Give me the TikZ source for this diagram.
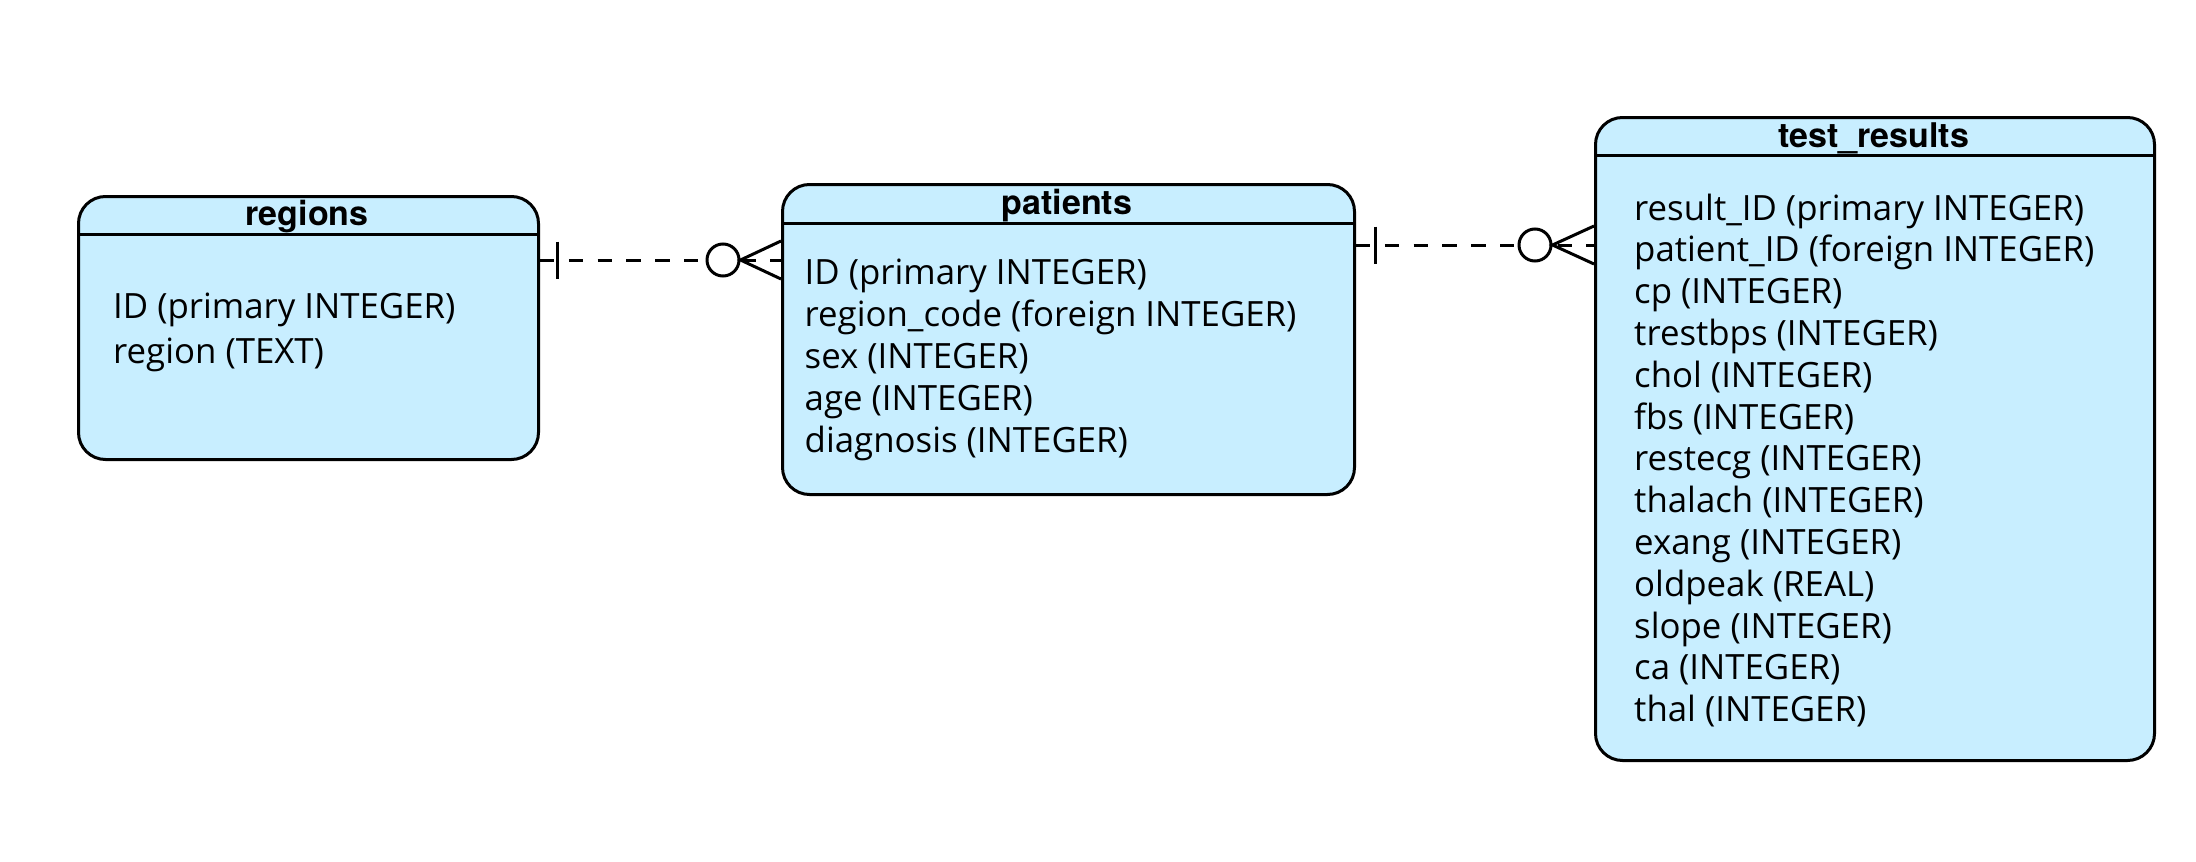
\documentclass[tikz,border=0pt]{standalone}
\usepackage{fontspec}
\setmainfont{Open Sans}
\newfontfamily\titlefont{TeX Gyre Heros}
\usetikzlibrary{calc}
\definecolor{boxfill}{HTML}{C8EEFF}
\tikzset{
  erbox/.style={draw=black, line width=3pt, fill=boxfill, rounded corners=27pt, inner sep=0pt, anchor=north west},
  ttl/.style={font=\titlefont\fontsize{34}{40}\selectfont\bfseries, anchor=base, inner sep=0pt},
  attr/.style={font=\fontsize{34.8}{42}\selectfont, anchor=base west, inner sep=0pt},
  rel/.style={line width=3pt, dash pattern=on 14.4pt off 14.4pt},
  endmark/.style={line width=3pt},
  zerocirc/.style={circle, draw=black, fill=white, line width=3pt, minimum size=32pt, inner sep=0pt}
}
\begin{document}
\begin{tikzpicture}[x=1pt, y=-1pt]
\useasboundingbox (0,0) rectangle (2196,862);

% tables
\node[erbox, minimum width=460pt, minimum height=263pt] (regions) at (77,195) {};
\node[erbox, minimum width=572pt, minimum height=310pt] (patients) at (781,183) {};
\node[erbox, minimum width=559pt, minimum height=643pt] (tests) at (1594,116) {};

% header separators
\coordinate (h1) at (0,234);
\coordinate (h2) at (0,223);
\coordinate (h3) at (0,155);
\draw[line width=3pt] (regions.west |- h1) -- (regions.east |- h1);
\draw[line width=3pt] (patients.west |- h2) -- (patients.east |- h2);
\draw[line width=3pt] (tests.west |- h3) -- (tests.east |- h3);

% titles
\node[ttl] (regions-t) at (307,225) {regions};
\node[ttl] (patients-t) at (1067,214) {patients};
\node[ttl] (tests-t) at (1873.5,147) {test\_results};

% attributes
\node[attr] (r1) at (113,318) {ID (primary INTEGER)};
\node[attr] (r2) at (113,363) {region (TEXT)};

\foreach \t [count=\i from 0] in {ID (primary INTEGER), region\_code (foreign INTEGER), sex (INTEGER), age (INTEGER), diagnosis (INTEGER)}
  \node[attr] (p\i) at (804.5,284+42.2*\i) {\t};

\foreach \t [count=\i from 0] in {result\_ID (primary INTEGER), patient\_ID (foreign INTEGER), cp (INTEGER), trestbps (INTEGER), chol (INTEGER), fbs (INTEGER), restecg (INTEGER), thalach (INTEGER), exang (INTEGER), oldpeak (REAL), slope (INTEGER), ca (INTEGER), thal (INTEGER)}
  \node[attr] (t\i) at (1634,220+41.8*\i) {\t};

% relationship regions -- patients
\coordinate (y1) at (0,260);
\draw[rel] (regions.east |- y1) -- (patients.west |- y1);
\draw[endmark] ($(regions.east |- y1)+(17,-18.5)$) -- ++(0,37);
\node[zerocirc] (c1) at ($(patients.west |- y1)+(-58,0)$) {};
\draw[endmark] ($(patients.west |- y1)+(0,-19)$) -- (c1.east) -- ($(patients.west |- y1)+(0,19)$);

% relationship patients -- test_results
\coordinate (y2) at (0,245);
\draw[rel] (patients.east |- y2) -- (tests.west |- y2);
\draw[endmark] ($(patients.east |- y2)+(19,-18.5)$) -- ++(0,37);
\node[zerocirc] (c2) at ($(tests.west |- y2)+(-59,0)$) {};
\draw[endmark] ($(tests.west |- y2)+(0,-19)$) -- (c2.east) -- ($(tests.west |- y2)+(0,19)$);
\end{tikzpicture}
\end{document}
